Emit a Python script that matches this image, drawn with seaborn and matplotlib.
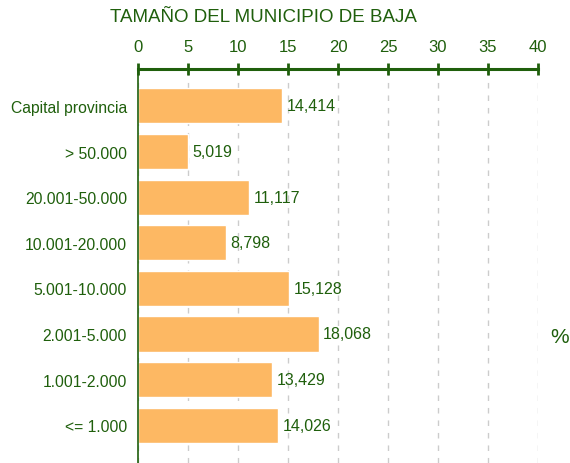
import matplotlib
matplotlib.use("Agg")
import matplotlib.pyplot as plt
import seaborn as sns
import pandas as pd

categories = ["Capital provincia", "> 50.000", "20.001-50.000", "10.001-20.000",
              "5.001-10.000", "2.001-5.000", "1.001-2.000", "<= 1.000"]
values = [14.414, 5.019, 11.117, 8.798, 15.128, 18.068, 13.429, 14.026]
xticks = [0, 5, 10, 15, 20, 25, 30, 35, 40]
title = "TAMAÑO DEL MUNICIPIO DE BAJA"

GREEN = "#1f5f0c"
BAR = "#fdb863"

sns.set_theme(style="white")
plt.rcParams['font.family'] = ['Liberation Sans', 'DejaVu Sans']

df = pd.DataFrame({"cat": categories, "val": values})

fig = plt.figure(figsize=(5.70, 4.64), dpi=100)
ax = fig.add_axes([138/570, 0.0, 400/570, 1 - 70/464])

sns.barplot(data=df, y="cat", x="val", orient="h", color=BAR, saturation=1,
            width=0.77, ax=ax, zorder=3)

ax.set_xlim(0, 40)
ax.set_ylim(7.83, -0.81)
ax.set_xticks(xticks)
ax.set_xticklabels([str(t) for t in xticks])
ax.xaxis.tick_top()
ax.set_xlabel("")
ax.set_ylabel("")

ax.grid(axis="x", color="#cccccc", linestyle=(0, (4, 5)), linewidth=1, zorder=0)
ax.grid(axis="y", visible=False)

for s in ["right", "bottom"]:
    ax.spines[s].set_visible(False)
ax.spines["top"].set_color(GREEN)
ax.spines["top"].set_linewidth(2.2)
ax.spines["left"].set_color(GREEN)
ax.spines["left"].set_linewidth(1.2)
ax.spines["left"].set_zorder(5)

ax.tick_params(axis="x", which="both", top=True, bottom=False, direction="inout",
               length=8, width=2, color=GREEN, labelcolor=GREEN, labelsize=12, pad=7)
ax.tick_params(axis="y", left=False, length=0, labelcolor=GREEN, labelsize=11.3, pad=8)

for i, v in enumerate(values):
    ax.text(v + 0.45, i, f"{v:.3f}".replace(".", ","), va="center", ha="left",
            color=GREEN, fontsize=11.5, zorder=4)

fig.text(110/570, 1 - 18/464, title, color=GREEN, fontsize=13.5, ha="left", va="center")
fig.text(560/570, 1 - 338/464, "%", color=GREEN, fontsize=15, ha="center", va="center")

fig.savefig("out.png", dpi=100)
